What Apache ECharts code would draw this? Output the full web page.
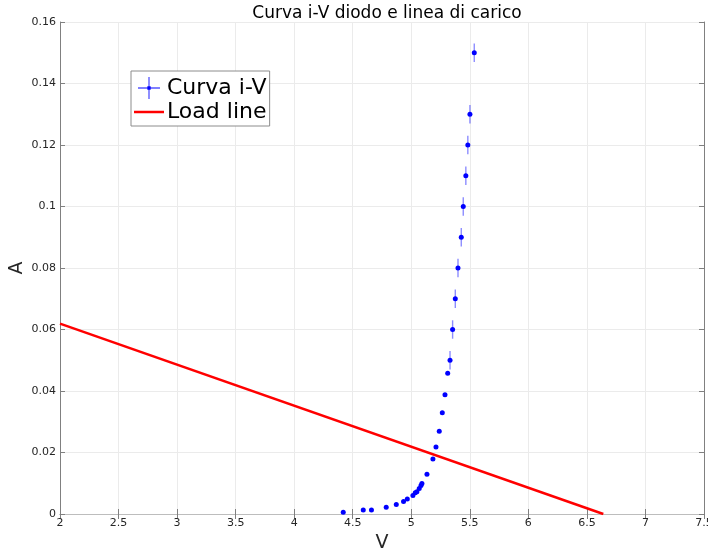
<!DOCTYPE html>
<html>
<head>
<meta charset="utf-8">
<script src="https://cdn.jsdelivr.net/npm/echarts@6/dist/echarts.min.js"></script>
<style>
  html, body { margin: 0; padding: 0; background: #ffffff; }
  #chart { width: 708px; height: 554px; }
</style>
</head>
<body>
<div id="chart"></div>
<script>
// Diode i-V measurements: voltage (V), current (A) and current uncertainty (A)
const voltage = [4.419, 4.590, 4.660, 4.786, 4.872, 4.934, 4.966, 5.014, 5.034, 5.048,
                 5.068, 5.083, 5.091, 5.134, 5.185, 5.211, 5.239, 5.265, 5.288, 5.311,
                 5.331, 5.353, 5.376, 5.399, 5.427, 5.444, 5.466, 5.483, 5.501, 5.538];
const current = [0.0006, 0.0013, 0.0013, 0.0022, 0.0031, 0.0041, 0.0049, 0.0060, 0.0069, 0.0072,
                 0.0083, 0.0093, 0.0099, 0.0129, 0.0179, 0.0218, 0.0269, 0.0329, 0.0388, 0.0458,
                 0.05, 0.06, 0.07, 0.08, 0.09, 0.10, 0.11, 0.12, 0.13, 0.15];
const currentErr = [0.0003, 0.0003, 0.0003, 0.0003, 0.0003, 0.0003, 0.0003, 0.0003, 0.0003, 0.0003,
                    0.0003, 0.0003, 0.0003, 0.0003, 0.0003, 0.0003, 0.0003, 0.0003, 0.0003, 0.0003,
                    0.003, 0.003, 0.003, 0.003, 0.003, 0.003, 0.003, 0.003, 0.003, 0.003];

// Load line end points: (V, I)
const loadLineV = [2, 6.64];
const loadLineI = [0.0619, 0];

// Axis ranges and ticks
const xRange = [2, 7.5], xStep = 0.5;
const yRange = [0, 0.16], yStep = 0.02;

const pointData = voltage.map((v, i) => [v, current[i]]);
const errData = voltage.map((v, i) => [v, current[i], currentErr[i]]);
const lineData = loadLineV.map((v, i) => [v, loadLineI[i]]);

const FONT = 'DejaVu Sans';
const AXIS_COLOR = '#808080';
const TEXT_COLOR = '#262626';

const chart = echarts.init(document.getElementById('chart'), null, { renderer: 'canvas' });

// Legend marker: point with crossing error bars
const plusIcon = 'path://M0,9.6h20v0.8h-20z M9.6,0h0.8v20h-0.8z M8.5,8.5h3v3h-3z';

chart.setOption({
  animation: false,
  backgroundColor: '#ffffff',
  title: {
    text: 'Curva i-V diodo e linea di carico',
    left: 382,
    textAlign: 'center',
    top: 0,
    textStyle: { fontFamily: FONT, fontSize: 17, fontWeight: 'normal', color: '#000000' }
  },
  grid: {
    left: 60, right: 4, top: 22, bottom: 40,
    containLabel: false, outerBoundsMode: 'none', show: false
  },
  legend: {
    orient: 'vertical',
    left: 131,
    top: 71,
    padding: [6, 3, 3, 3],
    itemGap: 2,
    itemWidth: 30,
    itemHeight: 22,
    backgroundColor: '#ffffff',
    borderColor: '#8c8c8c',
    borderWidth: 1,
    borderRadius: 0,
    textStyle: { fontFamily: FONT, fontSize: 22, color: '#000000', padding: [0, 0, 0, -2] },
    data: [
      { name: 'Curva i-V', icon: plusIcon, itemStyle: { color: '#0000ff', opacity: 1 } },
      { name: 'Load line', icon: 'path://M0,0h30v2.5h-30z', itemStyle: { color: '#ff0000', opacity: 1 } }
    ]
  },
  xAxis: [
    {
      type: 'value', min: xRange[0], max: xRange[1], interval: xStep,
      name: 'V', nameLocation: 'middle', nameGap: 20, nameMoveOverlap: false,
      nameTextStyle: { fontFamily: FONT, fontSize: 19, color: TEXT_COLOR },
      axisLine: { show: true, lineStyle: { color: AXIS_COLOR, width: 1 } },
      axisTick: { show: true, inside: true, length: 5, lineStyle: { color: AXIS_COLOR } },
      axisLabel: { fontFamily: FONT, fontSize: 11, color: TEXT_COLOR, margin: 4, showMaxLabel: true },
      splitLine: { show: true, lineStyle: { color: '#ebebeb', width: 1 } }
    },
    {
      type: 'value', position: 'top', min: xRange[0], max: xRange[1], interval: xStep,
      axisLine: { show: true, lineStyle: { color: '#bdbdbd', width: 1 } },
      axisTick: { show: true, inside: true, length: 5, lineStyle: { color: AXIS_COLOR } },
      axisLabel: { show: false },
      splitLine: { show: false }
    }
  ],
  yAxis: [
    {
      type: 'value', min: yRange[0], max: yRange[1], interval: yStep,
      name: 'A', nameLocation: 'middle', nameGap: 33, nameRotate: 90, nameMoveOverlap: false,
      nameTextStyle: { fontFamily: FONT, fontSize: 19, color: TEXT_COLOR },
      axisLine: { show: true, lineStyle: { color: AXIS_COLOR, width: 1 } },
      axisTick: { show: true, inside: true, length: 5, lineStyle: { color: AXIS_COLOR } },
      axisLabel: { fontFamily: FONT, fontSize: 11, color: TEXT_COLOR, margin: 4 },
      splitLine: { show: true, lineStyle: { color: '#ebebeb', width: 1 } }
    },
    {
      type: 'value', position: 'right', min: yRange[0], max: yRange[1], interval: yStep,
      axisLine: { show: true, lineStyle: { color: AXIS_COLOR, width: 1 } },
      axisTick: { show: true, inside: true, length: 5, lineStyle: { color: AXIS_COLOR } },
      axisLabel: { show: false },
      splitLine: { show: false }
    }
  ],
  series: [
    {
      name: 'Curva i-V error',
      type: 'custom',
      xAxisIndex: 0, yAxisIndex: 0,
      data: errData,
      encode: { x: 0, y: 1 },
      silent: true,
      z: 2,
      renderItem: function (params, api) {
        const x = api.value(0), y = api.value(1), e = api.value(2);
        const lo = api.coord([x, y - e]);
        const hi = api.coord([x, y + e]);
        return {
          type: 'line',
          shape: { x1: lo[0], y1: lo[1], x2: hi[0], y2: hi[1] },
          style: { stroke: 'rgba(0,0,255,0.45)', lineWidth: 1.4 }
        };
      }
    },
    {
      name: 'Curva i-V',
      type: 'scatter',
      xAxisIndex: 0, yAxisIndex: 0,
      data: pointData,
      symbol: 'circle',
      symbolSize: 5,
      symbolKeepAspect: true,
      itemStyle: { color: '#0000ff', opacity: 1 },
      z: 3
    },
    {
      name: 'Load line',
      type: 'line',
      xAxisIndex: 0, yAxisIndex: 0,
      data: lineData,
      showSymbol: false,
      symbol: 'none',
      lineStyle: { color: '#ff0000', width: 2.5 },
      z: 4
    }
  ]
});
</script>
</body>
</html>
